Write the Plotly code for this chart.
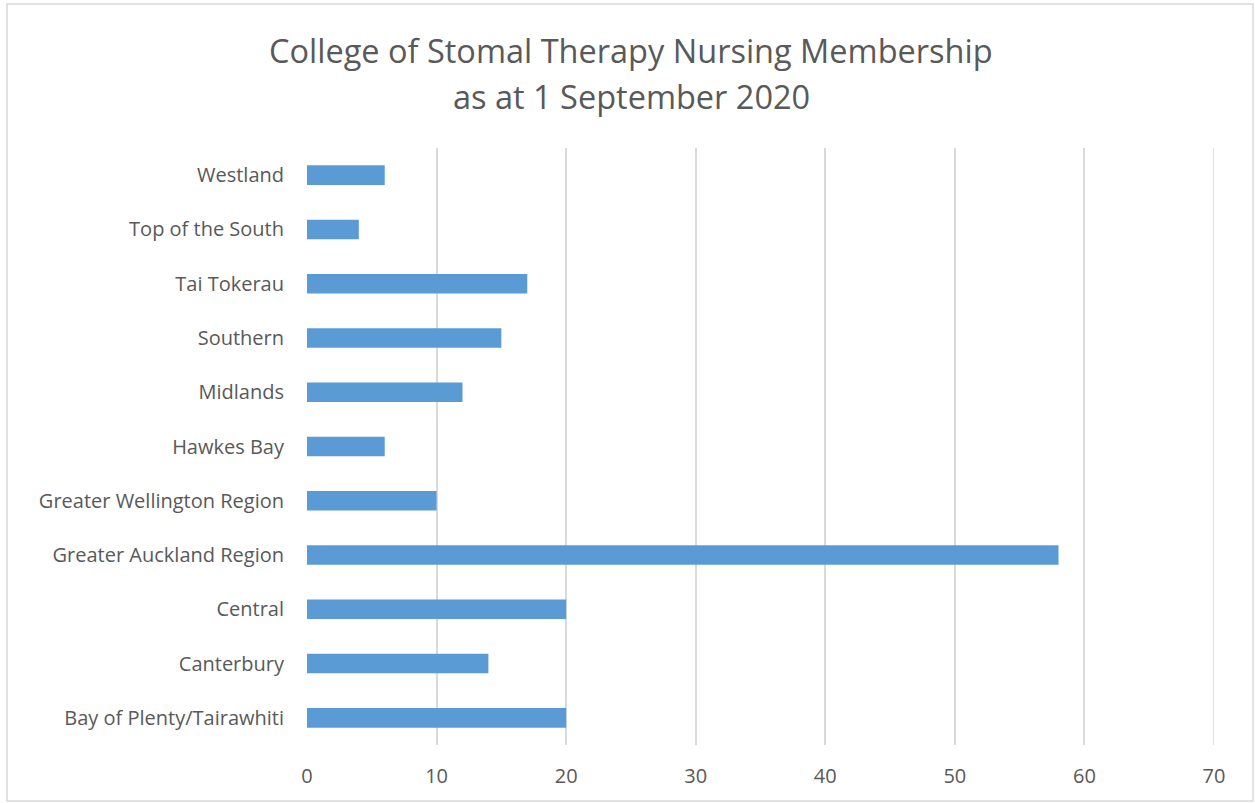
import plotly.graph_objects as go

regions = ["Bay of Plenty/Tairawhiti", "Canterbury", "Central", "Greater Auckland Region",
           "Greater Wellington Region", "Hawkes Bay", "Midlands", "Southern",
           "Tai Tokerau", "Top of the South", "Westland"]
members = [20, 14, 20, 58, 10, 6, 12, 15, 17, 4, 6]
x_ticks = [0, 10, 20, 30, 40, 50, 60, 70]
title_lines = ["College of Stomal Therapy Nursing Membership", "as at 1 September 2020"]

W, H = 1255, 803
ml, mr, mt, mb = 307, 41, 148, 58
pw, ph = W - ml - mr, H - mt - mb

fig = go.Figure(go.Bar(
    x=members, y=regions, orientation="h",
    marker=dict(color="#5b9bd5", line=dict(width=0)),
    width=0.36,
))

def px_x(p):
    return (p - ml) / pw

def px_y(p):
    return (H - mb - p) / ph

annotations = [
    dict(text=t, xref="paper", yref="paper", x=px_x(631), y=px_y(py),
         xanchor="center", yanchor="middle", showarrow=False,
         font=dict(size=32.5, color="#595959", family="Open Sans"))
    for t, py in zip(title_lines, [50, 97])
]

fig.update_layout(
    width=W, height=H,
    margin=dict(l=ml, r=mr, t=mt, b=mb),
    paper_bgcolor="white", plot_bgcolor="white",
    font=dict(family="Open Sans", color="#595959", size=20),
    xaxis=dict(range=[0, 70], tickvals=x_ticks, showgrid=True, gridcolor="#d9d9d9",
               gridwidth=1.5, zeroline=False, showline=False, ticks="outside",
               ticklen=13, tickcolor="rgba(0,0,0,0)",
               tickfont=dict(size=20, color="#595959")),
    yaxis=dict(showgrid=False, zeroline=False, showline=False, ticks="outside",
               ticklen=18, tickcolor="rgba(0,0,0,0)",
               tickfont=dict(size=20, color="#595959")),
    showlegend=False,
    annotations=annotations,
    shapes=[dict(type="rect", xref="paper", yref="paper",
                 x0=px_x(7), x1=px_x(1253), y0=px_y(801), y1=px_y(4),
                 line=dict(color="#d9d9d9", width=1.5), fillcolor="rgba(0,0,0,0)",
                 layer="below"),
            dict(type="line", xref="x", yref="paper", x0=x_ticks[-1], x1=x_ticks[-1],
                 y0=0, y1=1, line=dict(color="#d9d9d9", width=1.5), layer="below")],
)

fig.write_html("out.html", post_script="document.body.style.margin='0';",
               config={"displayModeBar": False})
